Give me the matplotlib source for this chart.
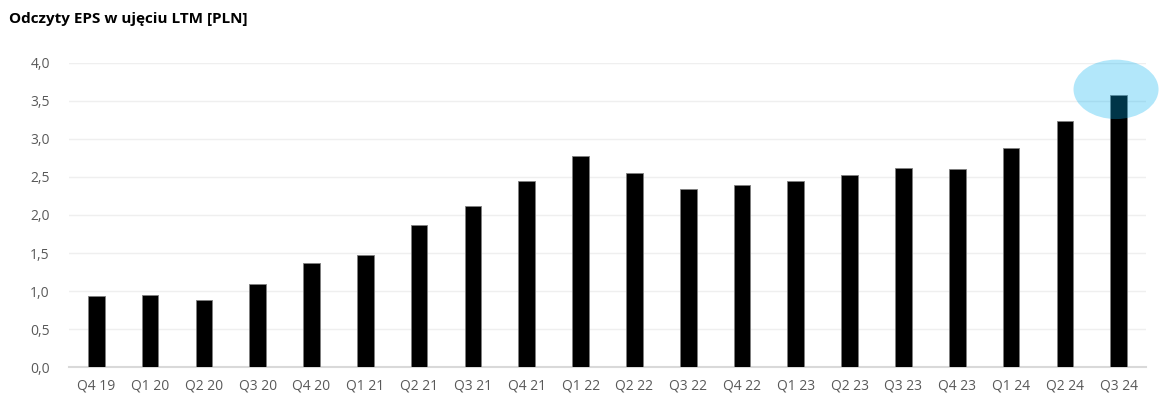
import matplotlib
matplotlib.use("Agg")
import matplotlib.pyplot as plt
from matplotlib.patches import Ellipse
from matplotlib.ticker import MultipleLocator, FuncFormatter

quarters = ["Q4 19", "Q1 20", "Q2 20", "Q3 20", "Q4 20", "Q1 21", "Q2 21", "Q3 21",
            "Q4 21", "Q1 22", "Q2 22", "Q3 22", "Q4 22", "Q1 23", "Q2 23", "Q3 23",
            "Q4 23", "Q1 24", "Q2 24", "Q3 24"]
eps_ltm = [0.93, 0.95, 0.88, 1.10, 1.37, 1.48, 1.87, 2.12,
           2.45, 2.77, 2.55, 2.34, 2.40, 2.44, 2.52, 2.62,
           2.61, 2.88, 3.24, 3.58]

plt.rcParams['font.family'] = ['Open Sans', 'DejaVu Sans']

fig = plt.figure(figsize=(11.75, 4.2), dpi=100)
ax = fig.add_axes([0.059, 0.1255, 0.916, 0.7252])

x = range(len(quarters))
ax.bar(x, eps_ltm, width=0.31, color='black', edgecolor='#7f7f7f', linewidth=0.6, zorder=3)

# highlight on the last reading
last = len(quarters) - 1
ell = Ellipse((last - 0.05, 3.65), width=1.58, height=0.78, facecolor='#00B0F0',
              alpha=0.3, edgecolor='none', zorder=4, clip_on=False)
ax.add_patch(ell)

ax.set_xlim(-0.5, len(quarters) - 0.5)
ax.set_ylim(0, 4.0)
ax.yaxis.set_major_locator(MultipleLocator(0.5))
ax.yaxis.set_major_formatter(FuncFormatter(lambda v, p: f"{v:.1f}".replace('.', ',')))
ax.set_xticks(list(x))
ax.set_xticklabels(quarters)

ax.grid(axis='y', color='#EFEFEF', linewidth=1.0, zorder=0)
for s in ['top', 'right', 'left']:
    ax.spines[s].set_visible(False)
ax.spines['bottom'].set_color('#D9D9D9')
ax.spines['bottom'].set_linewidth(1.5)
ax.tick_params(axis='both', length=0, labelsize=10, labelcolor='#595959')
ax.tick_params(axis='y', pad=14)
ax.tick_params(axis='x', pad=8)

fig.text(0.008, 0.955, "Odczyty EPS w ujęciu LTM [PLN]", fontsize=11, fontweight='bold',
         color='black', va='center', ha='left')

fig.savefig("out.png", dpi=100)
